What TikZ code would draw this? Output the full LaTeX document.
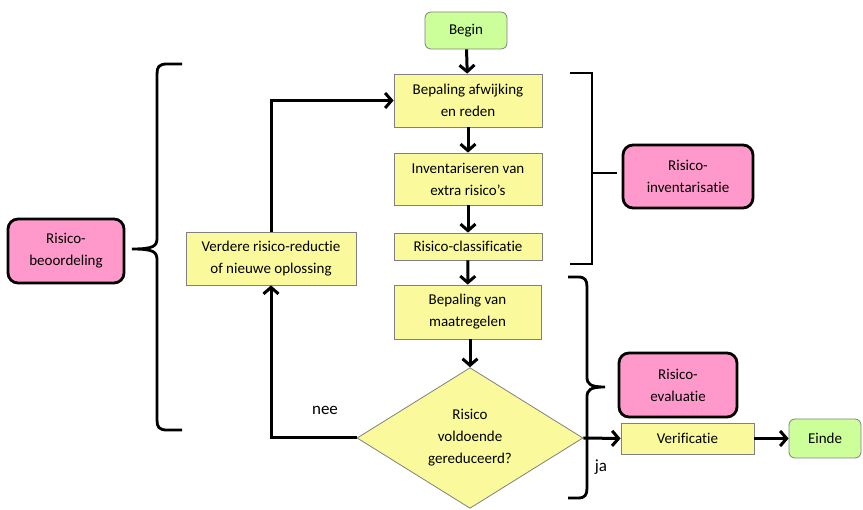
\documentclass[tikz,border=0pt]{standalone}
\usepackage{fontspec}
\setmainfont{Carlito}[Ligatures={NoCommon}]
\usetikzlibrary{shapes.geometric,arrows.meta}
\definecolor{yel}{HTML}{FAFA9C}
\definecolor{grn}{HTML}{CCFF99}
\definecolor{pnk}{HTML}{FF99CC}
\definecolor{bord}{HTML}{808080}
\begin{document}
\begin{tikzpicture}[x=1pt,y=-1pt,
  every node/.style={font=\fontsize{15}{22}\selectfont, align=center, inner sep=0pt},
  ybox/.style={draw=bord, line width=0.8pt, fill=yel},
  gbox/.style={draw=bord, line width=0.8pt, fill=grn, rounded corners=6pt},
  pbox/.style={draw=black, line width=2.8pt, fill=pnk, rounded corners=10pt},
  arr/.style={line width=3pt, -{Straight Barb[length=6.5pt,width=15pt]}},
  brace/.style={line width=2.8pt}]
\useasboundingbox (0,0) rectangle (863,510);
% nodes
\node[gbox, minimum width=82pt, minimum height=37pt] (begin) at (466,30.5) {Begin};
\node[ybox, minimum width=148pt, minimum height=53pt] (bep) at (468,100.5) {Bepaling afwijking\\en reden};
\node[ybox, minimum width=148pt, minimum height=52pt] (inv) at (468,179) {Inventariseren van\\extra risico’s};
\node[ybox, minimum width=148pt, minimum height=27pt] (cls) at (468,246.5) {Risico-classificatie};
\node[ybox, minimum width=147pt, minimum height=54pt] (maat) at (467.5,312) {Bepaling van\\maatregelen};
\node[ybox, draw=bord, line width=0.8pt, shape=diamond, minimum width=226pt, minimum height=140pt] (dia) at (470,438) {Risico\\voldoende\\gereduceerd?};
\node[ybox, minimum width=170pt, minimum height=53pt] (ver) at (271,258.5) {Verdere risico-reductie\\of nieuwe oplossing};
\node[ybox, minimum width=133pt, minimum height=31pt] (verif) at (687.5,438.5) {Verificatie};
\node[gbox, minimum width=72pt, minimum height=39pt] (einde) at (825,438.5) {Einde};
\node[pbox, minimum width=116pt, minimum height=64pt] (pb) at (66,251) {Risico-\\beoordeling};
\node[pbox, minimum width=130pt, minimum height=63pt] (pi) at (688,176.5) {Risico-\\inventarisatie};
\node[pbox, minimum width=118pt, minimum height=64pt] (pe) at (678,385) {Risico-\\evaluatie};
\node[font=\fontsize{17}{18}\selectfont] (nee) at (325,410) {nee};
\node[font=\fontsize{17}{18}\selectfont] (ja) at (601,467) {ja};
% connectors
\draw[arr] (begin) -- (bep);
\draw[arr] (bep) -- (inv);
\draw[arr] (inv) -- (cls);
\draw[arr] (cls) -- (maat);
\draw[arr] (maat.south -| dia.north) -- (dia.north);
\draw[arr] (dia.west) -| (ver.south);
\draw[arr] (ver.north) |- (bep.west);
\draw[arr] (dia.east) -- (verif.west);
\draw[arr] (verif.east) -- (einde.west);
% braces
\draw[brace] (182,64) -- (167,64) .. controls (159,64) and (157,67) .. (157,74) -- (157,238)
  .. controls (157,246) and (154,249) .. (132,249)
  .. controls (154,249) and (157,252) .. (157,260) -- (157,420)
  .. controls (157,427) and (159,430) .. (167,430) -- (182,430);
\draw[brace] (570,73) -- (592,73) -- (592,264) -- (570,264);
\draw[brace] (592,173) -- (617,173);
\draw[brace] (568,277) -- (578,277) .. controls (585,277) and (587,280) .. (587,287) -- (587,377)
  .. controls (587,384) and (590,387) .. (605,387)
  .. controls (590,387) and (587,390) .. (587,397) -- (587,488)
  .. controls (587,495) and (585,498) .. (578,498) -- (568,498);
\end{tikzpicture}
\end{document}
